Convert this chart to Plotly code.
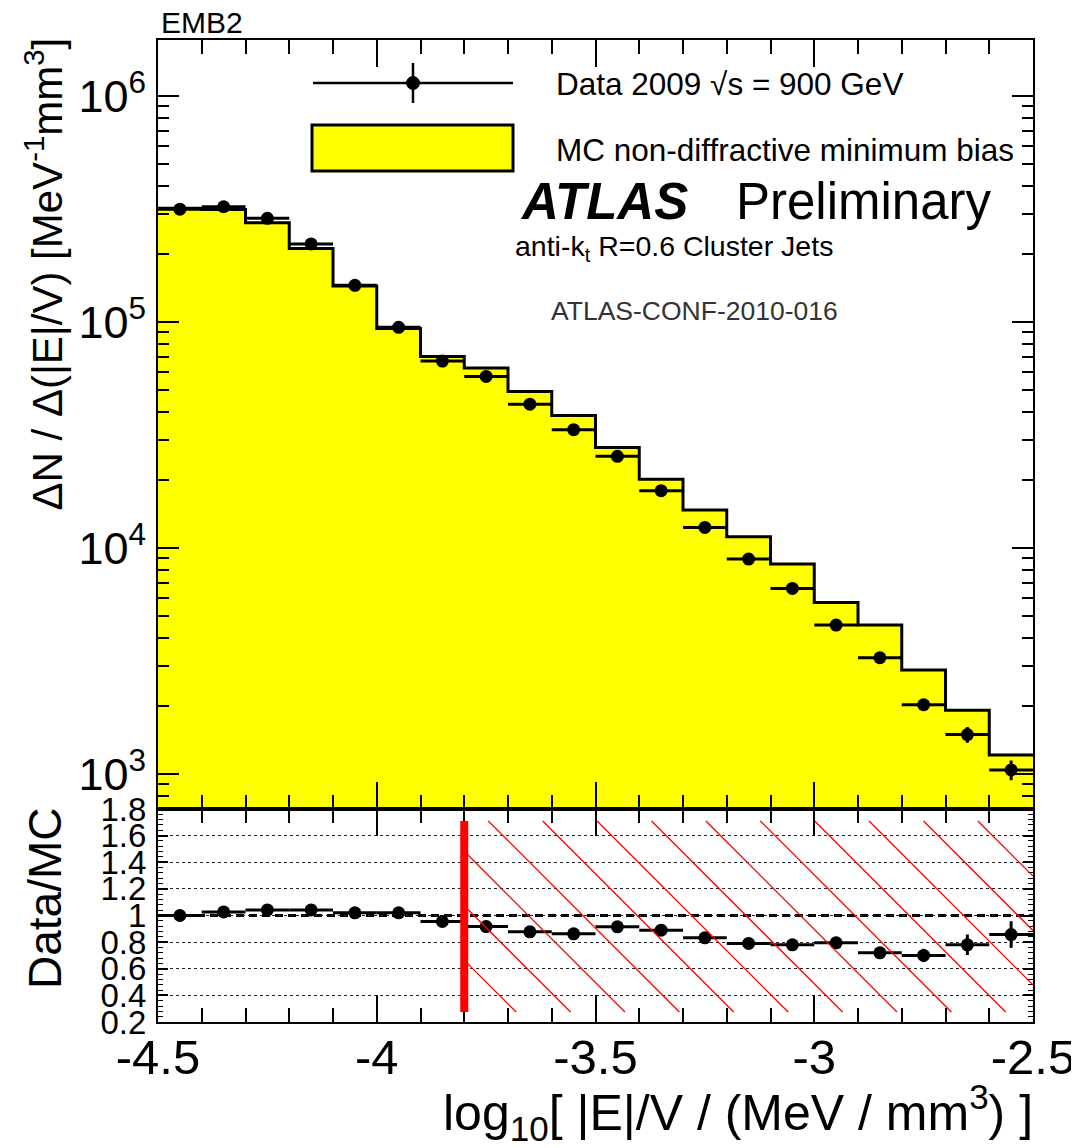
import plotly.graph_objects as go

# ---------------- data ----------------
bin_centers = [-4.45, -4.35, -4.25, -4.15, -4.05, -3.95, -3.85, -3.75, -3.65, -3.55,
               -3.45, -3.35, -3.25, -3.15, -3.05, -2.95, -2.85, -2.75, -2.65, -2.55]
bin_half_width = 0.05

data_vals = [3.15e5, 3.23e5, 2.87e5, 2.21e5, 1.45e5, 9.45e4, 6.70e4, 5.73e4, 4.32e4, 3.33e4,
             2.54e4, 1.79e4, 1.23e4, 8.91e3, 6.61e3, 4.55e3, 3.26e3, 2.02e3, 1.49e3, 1.04e3]
data_rel_err = [0.004, 0.004, 0.004, 0.005, 0.006, 0.007, 0.008, 0.009, 0.010, 0.012,
                0.014, 0.016, 0.019, 0.022, 0.026, 0.031, 0.037, 0.045, 0.080, 0.100]
mc_vals = [3.18e5, 3.14e5, 2.74e5, 2.11e5, 1.44e5, 9.35e4, 7.03e4, 6.24e4, 4.92e4, 3.85e4,
           2.78e4, 2.01e4, 1.47e4, 1.12e4, 8.47e3, 5.73e3, 4.55e3, 2.88e3, 1.91e3, 1.21e3]

ratio_vals = [1.00, 1.027, 1.042, 1.042, 1.02, 1.02, 0.955, 0.917, 0.877, 0.862,
              0.915, 0.890, 0.832, 0.790, 0.780, 0.795, 0.720, 0.700, 0.780, 0.857]
ratio_err = [0.01, 0.01, 0.01, 0.01, 0.01, 0.01, 0.01, 0.012, 0.012, 0.012,
             0.015, 0.015, 0.02, 0.02, 0.025, 0.03, 0.04, 0.05, 0.077, 0.10]

x_tick_vals = [-4.5, -4.0, -3.5, -3.0, -2.5]
x_tick_text = ["-4.5", "-4", "-3.5", "-3", "-2.5"]
y_tick_vals = [1e3, 1e4, 1e5, 1e6]
y_tick_text = ["10<sup>3</sup>", "10<sup>4</sup>", "10<sup>5</sup>", "10<sup>6</sup>"]
r_tick_vals = [0.2, 0.4, 0.6, 0.8, 1.0, 1.2, 1.4, 1.6, 1.8]
r_tick_text = ["0.2", "0.4", "0.6", "0.8", "1", "1.2", "1.4", "1.6", "1.8"]

cut_x = -3.8          # start of excluded (hatched) region
hatch_ylim = (0.275, 1.71)

# ---------------- geometry ----------------
# the page body has an 8px margin, so the figure is shifted by -8px here
OFF = 8
W, H = 1079, 1148
PL, PT, PR_, PB = 158, 40, 1033, 1022      # target plot-area box in screenshot pixels
PW, PH = PR_ - PL, PB - PT
ML, MT = PL - OFF, PT - OFF
MR = W - ML - PW
MB = H - MT - PH
RATIO_PX = 213
split = RATIO_PX / PH
XR = (-4.5, -2.5)
YR_LOG = (2.844, 6.247)
RR = (0.2, 1.8)
FONT = "Liberation Sans, Arial, Helvetica, sans-serif"


def px2x(p):
    return (p - PL) / PW


def py2y(p):
    return (PB - p) / PH


fig = go.Figure()

# MC histogram fill + outline
fig.add_trace(go.Bar(x=bin_centers, y=mc_vals, width=2 * bin_half_width,
                     marker=dict(color="#ffff00", line=dict(width=0)),
                     xaxis="x", yaxis="y", showlegend=False, hoverinfo="skip"))
edges = [c - bin_half_width for c in bin_centers] + [bin_centers[-1] + bin_half_width]
fig.add_trace(go.Scatter(x=edges, y=mc_vals + [mc_vals[-1]], mode="lines",
                         line=dict(color="black", width=3, shape="hv"),
                         xaxis="x", yaxis="y", showlegend=False, hoverinfo="skip"))

# Data points
fig.add_trace(go.Scatter(
    x=bin_centers, y=data_vals, mode="markers",
    marker=dict(color="black", size=13),
    error_x=dict(type="data", array=[bin_half_width] * len(bin_centers), color="black", thickness=3, width=0),
    error_y=dict(type="data", array=[d * e for d, e in zip(data_vals, data_rel_err)], color="black", thickness=3, width=0),
    xaxis="x", yaxis="y", showlegend=False))

# Ratio points
fig.add_trace(go.Scatter(
    x=bin_centers, y=ratio_vals, mode="markers",
    marker=dict(color="black", size=13),
    error_x=dict(type="data", array=[bin_half_width] * len(bin_centers), color="black", thickness=3, width=0),
    error_y=dict(type="data", array=ratio_err, color="black", thickness=3, width=0),
    xaxis="x2", yaxis="y2", showlegend=False))

shapes = []
# dashed unity line
shapes.append(dict(type="line", xref="x2", yref="y2", x0=XR[0], x1=XR[1], y0=1.0, y1=1.0,
                   line=dict(color="black", width=3, dash="8px,5px"), layer="below"))

# hatched excluded region (45 degree lines in screen space)
sx = PW / (XR[1] - XR[0])
sy = RATIO_PX / (RR[1] - RR[0])
y0h, y1h = hatch_ylim
span = (y1h - y0h) * sy / sx
step = 54.4 / sx
xt_ref = -3.745
for k in range(-12, 30):
    xt = xt_ref + k * step
    xs = max(cut_x, xt)
    xe = min(XR[1], xt + span)
    if xs < xe:
        ys = y1h - (xs - xt) * sx / sy
        ye = y1h - (xe - xt) * sx / sy
        shapes.append(dict(type="line", xref="x2", yref="y2", x0=xs, x1=xe, y0=ys, y1=ye,
                           line=dict(color="#ff0000", width=1.3)))
# red cut line
shapes.append(dict(type="line", xref="x2", yref="y2", x0=cut_x, x1=cut_x, y0=y0h, y1=y1h,
                   line=dict(color="#ff0000", width=8)))

# legend graphics (paper coordinates from pixels)
shapes.append(dict(type="line", xref="paper", yref="paper", x0=px2x(313), x1=px2x(513),
                   y0=py2y(83), y1=py2y(83), line=dict(color="black", width=2.5)))
shapes.append(dict(type="line", xref="paper", yref="paper", x0=px2x(413), x1=px2x(413),
                   y0=py2y(63), y1=py2y(103), line=dict(color="black", width=2.5)))
shapes.append(dict(type="circle", xref="paper", yref="paper", x0=px2x(406.5), x1=px2x(419.5),
                   y0=py2y(89.5), y1=py2y(76.5), fillcolor="black", line=dict(color="black", width=1)))
shapes.append(dict(type="rect", xref="paper", yref="paper", x0=px2x(312), x1=px2x(513),
                   y0=py2y(171), y1=py2y(125), fillcolor="#ffff00", line=dict(color="black", width=3)))

annotations = []


def ann(text, x, y, size, xanchor="left", yanchor="middle", angle=0, color="black"):
    annotations.append(dict(text=text, x=px2x(x), y=py2y(y), xref="paper", yref="paper",
                            xanchor=xanchor, yanchor=yanchor, textangle=angle, showarrow=False,
                            font=dict(family=FONT, size=size, color=color)))


ann("EMB2", 159, 22, 30)
ann("Data 2009 √s = 900 GeV", 554, 84, 31.5)
ann("MC non-diffractive minimum bias", 554, 150, 31.5)
ann("<b><i>ATLAS</i></b>", 518, 202, 51)
ann("Preliminary", 734, 202, 51)
ann("anti-k<sub>t</sub> R=0.6 Cluster Jets", 513, 248, 28.5)
ann("ATLAS-CONF-2010-016", 549, 311, 26.5, color="#333333")
ann("ΔN / Δ(|E|/V) [MeV<sup>-1</sup>mm<sup>3</sup>]", 45, 36, 42, xanchor="center", yanchor="top", angle=-90)
ann("Data/MC", 45, 899, 46, xanchor="center", yanchor="middle", angle=-90)
ann("log<sub>10</sub>[ |E|/V / (MeV / mm<sup>3</sup>) ]", 1035, 1112, 50, xanchor="right", yanchor="middle")

minor_log = [m * 10 ** e for e in range(2, 7) for m in range(2, 10)]

axis_common = dict(showline=True, linecolor="black", linewidth=2, mirror="ticks",
                   ticks="inside", tickcolor="black", tickwidth=2, zeroline=False)

fig.update_layout(
    width=W, height=H,
    margin=dict(l=ML, r=MR, t=MT, b=MB, pad=0),
    paper_bgcolor="white", plot_bgcolor="white",
    font=dict(family=FONT, color="black"),
    showlegend=False, barmode="overlay", bargap=0,
    shapes=shapes, annotations=annotations,
    xaxis=dict(domain=[0, 1], anchor="y", range=list(XR), tickmode="array", tickvals=x_tick_vals,
               showticklabels=False, ticklen=27, showgrid=False, matches="x2",
               minor=dict(ticks="inside", ticklen=14, tickwidth=2, tickcolor="black", dtick=0.1, tick0=-4.5, showgrid=False),
               **axis_common),
    yaxis=dict(domain=[split, 1], anchor="x", type="log", range=list(YR_LOG), tickmode="array",
               tickvals=y_tick_vals, ticktext=y_tick_text, ticklen=21, showgrid=False,
               tickfont=dict(family=FONT, size=45), ticklabelstandoff=1,
               minor=dict(ticks="inside", ticklen=11, tickwidth=2, tickcolor="black", tickvals=minor_log, showgrid=False),
               **axis_common),
    xaxis2=dict(domain=[0, 1], anchor="y2", range=list(XR), tickmode="array", tickvals=x_tick_vals,
                ticktext=x_tick_text, ticklen=27, showgrid=False,
                tickfont=dict(family=FONT, size=49), ticklabelstandoff=-9,
                minor=dict(ticks="inside", ticklen=14, tickwidth=2, tickcolor="black", dtick=0.1, tick0=-4.5, showgrid=False),
                **axis_common),
    yaxis2=dict(domain=[0, split], anchor="x2", range=list(RR), tickmode="array", tickvals=r_tick_vals,
                ticktext=r_tick_text, ticklen=10, showgrid=True, gridcolor="#222222", griddash="dot", gridwidth=1,
                tickfont=dict(family=FONT, size=33), ticklabelstandoff=3,
                minor=dict(ticks="inside", ticklen=5, tickwidth=1, tickcolor="black", dtick=0.04, tick0=0.2, showgrid=False),
                **axis_common),
)

fig.write_html("out.html")
